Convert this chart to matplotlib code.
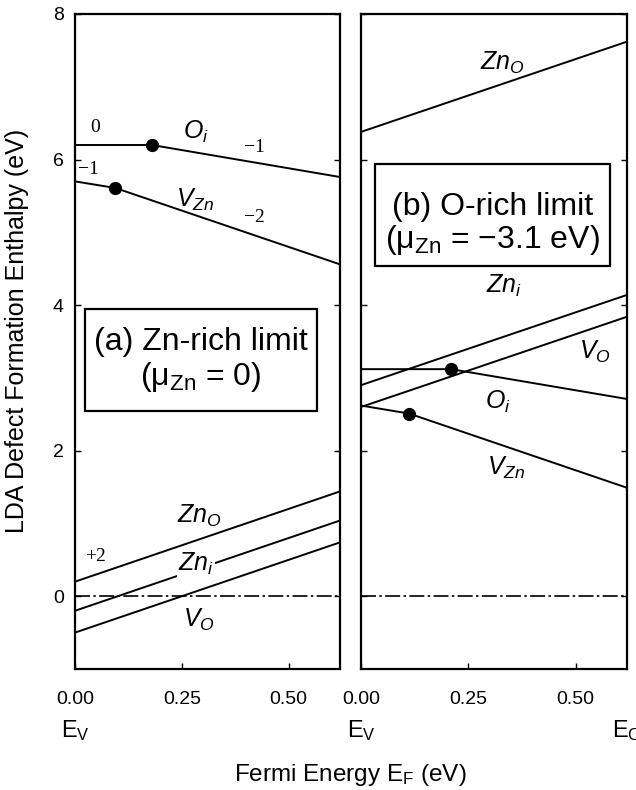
import matplotlib
matplotlib.use("Agg")
import matplotlib.pyplot as plt
from matplotlib.patches import Rectangle

plt.rcParams['font.family'] = ['Liberation Sans', 'DejaVu Sans']
plt.rcParams['mathtext.fontset'] = 'custom'
plt.rcParams['mathtext.rm'] = 'Liberation Sans'
plt.rcParams['mathtext.it'] = 'Liberation Sans:italic'

xmax = 0.62

# (a) Zn-rich limit
oi_a_x = [0, 0.18, xmax]
oi_a_y = [6.2, 6.2, 5.76]
vzn_a_x = [0, 0.094, xmax]
vzn_a_y = [5.70, 5.61, 4.56]
lin_x = [0, xmax]
zno_a = [0.2, 1.44]
zni_a = [-0.2, 1.04]
vo_a = [-0.5, 0.74]

# (b) O-rich limit
zno_b = [6.38, 7.62]
zni_b = [2.9, 4.14]
vo_b = [2.6, 3.84]
oi_b_x = [0, 0.21, xmax]
oi_b_y = [3.12, 3.12, 2.71]
vzn_b_x = [0, 0.112, xmax]
vzn_b_y = [2.62, 2.51, 1.49]

yticks = [0, 2, 4, 6, 8]
xticks = [0.0, 0.25, 0.5]
xticklabels = ['0.00', '0.25', '0.50']

fig = plt.figure(figsize=(6.36, 7.9), dpi=100)
axa = fig.add_axes([75/636, 121/790, 265/636, 655/790])
axb = fig.add_axes([361/636, 121/790, 266/636, 655/790])

lw = 1.4
k = 'black'
dash = (0, (9, 2, 1.5, 2))

# panel a lines
axa.plot(oi_a_x, oi_a_y, color=k, lw=lw)
axa.plot(vzn_a_x, vzn_a_y, color=k, lw=lw)
axa.plot(lin_x, zno_a, color=k, lw=lw)
axa.plot(lin_x, zni_a, color=k, lw=lw)
axa.plot(lin_x, vo_a, color=k, lw=lw)
axa.plot([oi_a_x[1], vzn_a_x[1]], [oi_a_y[1], vzn_a_y[1]], 'o', color=k, ms=8.5, ls='none')
axa.plot(lin_x, [0, 0], color=k, lw=1.2, ls=dash)

# panel b lines
axb.plot(lin_x, zno_b, color=k, lw=lw)
axb.plot(lin_x, zni_b, color=k, lw=lw)
axb.plot(lin_x, vo_b, color=k, lw=lw)
axb.plot(oi_b_x, oi_b_y, color=k, lw=lw)
axb.plot(vzn_b_x, vzn_b_y, color=k, lw=lw)
axb.plot([oi_b_x[1], vzn_b_x[1]], [oi_b_y[1], vzn_b_y[1]], 'o', color=k, ms=8.5, ls='none')
axb.plot(lin_x, [0, 0], color=k, lw=1.2, ls=dash)

for ax in (axa, axb):
    ax.set_xlim(0, xmax)
    ax.set_ylim(-1, 8)
    ax.set_yticks(yticks)
    ax.set_xticks(xticks)
    ax.set_xticklabels(xticklabels)
    ax.tick_params(direction='in', left=True, right=True, length=4, width=1,
                   labelsize=14, pad=8)
    ax.tick_params(axis='x', pad=16)
    for s in ax.spines.values():
        s.set_linewidth(1.6)
axb.set_yticklabels([])

# labels panel a
lab = dict(fontsize=18, ha='center', va='center')
ser = dict(fontsize=14, ha='center', va='center', family='Liberation Serif')
axa.text(0.048, 6.44, '0', **ser)
axa.text(0.42, 6.16, '\u22121', **ser)
axa.text(0.032, 5.86, '\u22121', **ser)
axa.text(0.42, 5.2, '\u22122', **ser)
axa.text(0.048, 0.55, '+2', **ser)
axa.text(0.283, 6.38, r'$O_i$', **lab)
axa.text(0.28, 5.45, r'$V_{Zn}$', **lab)
axa.text(0.29, 1.11, r'$Zn_O$', **lab)
axa.text(0.283, 0.45, r'$Zn_i$', zorder=5,
         bbox=dict(facecolor='white', edgecolor='none', pad=0.5), **lab)
axa.text(0.29, -0.33, r'$V_O$', **lab)

axa.add_patch(Rectangle((0.023, 2.54), 0.544, 1.405, fill=False, lw=1.6, ec=k))
axa.text(0.295, 3.49, '(a) Zn-rich limit', fontsize=23, ha='center', va='center')
axa.text(0.295, 3.01, '(\u03bc$_\\mathrm{Zn}$ = 0)', fontsize=23, ha='center', va='center')

# labels panel b
axb.text(0.329, 7.33, r'$Zn_O$', **lab)
axb.text(0.333, 4.26, r'$Zn_i$', **lab)
axb.text(0.546, 3.36, r'$V_O$', **lab)
axb.text(0.32, 2.67, r'$O_i$', **lab)
axb.text(0.338, 1.77, r'$V_{Zn}$', **lab)

axb.add_patch(Rectangle((0.033, 4.54), 0.548, 1.405, fill=False, lw=1.6, ec=k))
axb.text(0.307, 5.35, '(b) O-rich limit', fontsize=23, ha='center', va='center')
axb.text(0.307, 4.90, '(\u03bc$_\\mathrm{Zn}$ = \u22123.1 eV)', fontsize=23, ha='center', va='center')

# band edge labels
axa.text(0, -1.85, r'E$_\mathrm{V}$', fontsize=17, ha='center', va='center', clip_on=False)
axb.text(0, -1.85, r'E$_\mathrm{V}$', fontsize=17, ha='center', va='center', clip_on=False)
axb.text(xmax, -1.85, r'E$_\mathrm{C}$', fontsize=17, ha='center', va='center', clip_on=False)

fig.text(350/636, 1 - 775/790, r'Fermi Energy E$_\mathrm{F}$ (eV)', fontsize=17.5,
         ha='center', va='center')
fig.text(17/636, 1 - 331/790, 'LDA Defect Formation Enthalpy (eV)', fontsize=18,
         ha='center', va='center', rotation=90)

fig.savefig('out.png', dpi=100)
